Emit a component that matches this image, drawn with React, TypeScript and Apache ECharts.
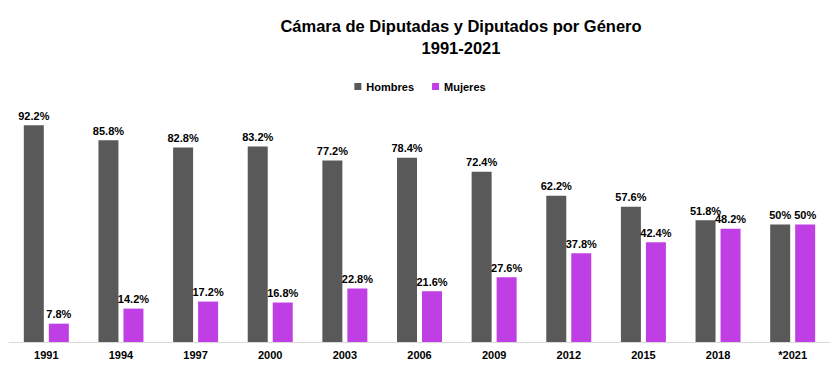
import React, { useEffect, useRef } from "react";
import * as echarts from "echarts";

const categories = ["1991", "1994", "1997", "2000", "2003", "2006", "2009", "2012", "2015", "2018", "*2021"];
const hombres = [92.2, 85.8, 82.8, 83.2, 77.2, 78.4, 72.4, 62.2, 57.6, 51.8, 50];
const mujeres = [7.8, 14.2, 17.2, 16.8, 22.8, 21.6, 27.6, 37.8, 42.4, 48.2, 50];

const FONT = "Liberation Sans, Arial, sans-serif";

export default function App() {
  const ref = useRef<HTMLDivElement>(null);
  useEffect(() => {
    if (!ref.current) return;
    const chart = echarts.init(ref.current, undefined, { renderer: "svg" });
    const label = {
      show: true,
      position: "top",
      distance: 4,
      color: "#000",
      fontWeight: "bold",
      fontSize: 11,
      fontFamily: FONT,
      formatter: (p: any) => `${p.value}%`,
    };
    chart.setOption({
      animation: false,
      backgroundColor: "#fff",
      title: {
        text: "Cámara de Diputadas y Diputados por Género\n1991-2021",
        left: 456,
        textAlign: "center",
        top: 10,
        textStyle: {
          fontSize: 16.5,
          fontWeight: "bold",
          color: "#000",
          fontFamily: FONT,
          lineHeight: 22,
        },
      },
      legend: {
        top: 76,
        left: "center",
        itemWidth: 7,
        itemHeight: 7,
        itemGap: 18,
        icon: "rect",
        textStyle: { fontSize: 11, fontWeight: "bold", color: "#000", fontFamily: FONT },
        data: ["Hombres", "Mujeres"],
      },
      grid: { left: 9, right: 10, top: 107, bottom: 42, containLabel: false },
      xAxis: {
        type: "category",
        data: categories,
        axisLine: { lineStyle: { color: "#d9d9d9", width: 1 } },
        axisTick: { show: false },
        axisLabel: { color: "#000", fontWeight: "bold", fontSize: 11, fontFamily: FONT, margin: 7 },
      },
      yAxis: {
        type: "value",
        min: 0,
        max: 100,
        show: false,
        splitLine: { show: false },
      },
      series: [
        {
          name: "Hombres",
          type: "bar",
          data: hombres,
          barWidth: 20,
          barGap: "25%",
          itemStyle: { color: "#595959" },
          label,
        },
        {
          name: "Mujeres",
          type: "bar",
          data: mujeres,
          barWidth: 20,
          itemStyle: { color: "#BF3FE5" },
          label,
        },
      ],
    });
    return () => chart.dispose();
  }, []);
  return <div ref={ref} style={{ width: 840, height: 384, position: "absolute", left: 0, top: 0 }} />;
}
